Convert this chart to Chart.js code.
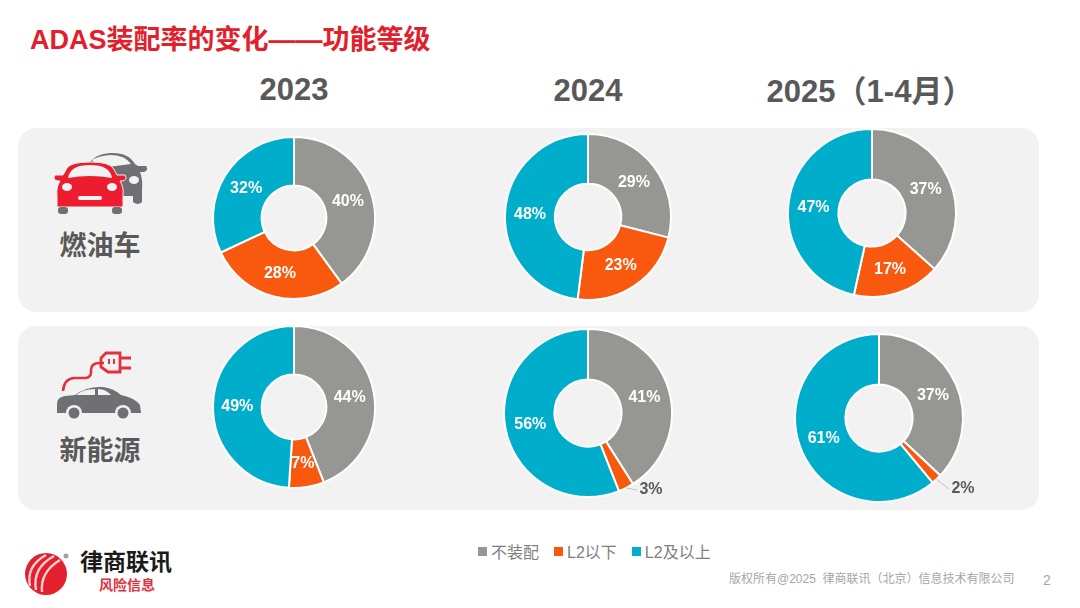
<!DOCTYPE html>
<html lang="zh">
<head>
<meta charset="utf-8">
<title>ADAS装配率的变化——功能等级</title>
<script src="https://cdn.jsdelivr.net/npm/chart.js@4"></script>
<style>
  html, body { margin: 0; padding: 0; background: #fff; }
  body { width: 1080px; height: 608px; position: relative; overflow: hidden; font-family: "Liberation Sans", "Noto Sans CJK SC", sans-serif; }
  .abs { position: absolute; white-space: nowrap; }
  .panel { position: absolute; left: 18px; width: 1021px; height: 184px; background: #f2f2f2; border-radius: 18px; }
  .title { left: 30px; top: 24px; font-size: 27px; line-height: 32px; font-weight: bold; color: #e2202c; }
  .year { font-size: 31px; line-height: 38px; font-weight: bold; color: #595959; transform: translateX(-50%); }
  .cat { left: 58px; font-size: 27px; line-height: 34px; color: #595959; font-weight: bold; width: 84px; text-align: center; }
  canvas { position: absolute; }
  .legend { left: 478px; top: 542px; font-size: 16px; line-height: 22px; color: #7f7f7f; display: flex; }
  .legend span { display: flex; align-items: center; margin-right: 15px; }
  .legend i { display: inline-block; width: 9px; height: 9px; margin-right: 4px; margin-top: -4px; }
  .foot { left: 729px; top: 571px; font-size: 12px; line-height: 16px; color: #a6a6a6; }
  .page { left: 1043px; top: 571px; font-size: 14px; line-height: 18px; color: #a6a6a6; }
  .brand { left: 80px; top: 548px; font-size: 23px; line-height: 28px; font-weight: bold; color: #1a1a1a; }
  .sub { left: 99px; top: 576px; font-size: 14px; line-height: 18px; font-weight: bold; color: #e2303c; }
</style>
</head>
<body>
<div class="panel" style="top:128px"></div>
<div class="panel" style="top:326px"></div>
<div class="abs title">ADAS装配率的变化——功能等级</div>
<div id="years"></div>
<div id="cats"></div>

<!-- 燃油车 icon -->
<svg class="abs" style="left:50px;top:150px" width="100" height="70" viewBox="0 0 100 70">
  <path d="M40 12 Q46 4 60 3 Q78 2 85 14 L88 16 L96 16 Q99 20 94 22 L90 22 Q93 30 92 40 L92 52 Q88 56 83 52 L83 46 L60 46 Z" fill="#6f7073"/>
  <path d="M42 10 Q48 6 60 5 Q75 5 81 14 L50 18 Z" fill="#f2f2f2"/>
  <path d="M17 18 Q21 12 40 12 Q59 12 63 18 L67 25 L75 25 Q78 30 72 31 L70 31 Q74 37 73 46 L73 57 L7 57 L7 46 Q6 37 10 31 L8 31 Q2 30 5 25 L13 25 Z" fill="#ed1c2e" stroke="#f2f2f2" stroke-width="1"/>
  <path d="M18 28 Q20 15 40 15 Q60 15 62 28 Q40 24 18 28 Z" fill="#f2f2f2"/>
  <ellipse cx="17" cy="37" rx="5" ry="4" fill="#f2f2f2"/>
  <ellipse cx="62" cy="37" rx="5" ry="4" fill="#f2f2f2"/>
  <ellipse cx="84" cy="30" rx="5" ry="4" fill="#f2f2f2"/>
  <rect x="28" y="46" width="24" height="4" rx="2" fill="#f2f2f2"/>
  <rect x="8" y="57" width="10" height="7" rx="3" fill="#6f7073"/>
  <rect x="62" y="57" width="10" height="7" rx="3" fill="#6f7073"/>
</svg>

<!-- 新能源 icon -->
<svg class="abs" style="left:50px;top:345px" width="100" height="80" viewBox="0 0 100 80">
  <path d="M13 46 Q14 34 24 33 L36 33 Q42 32 41 25 Q41 18 50 18 L54 18" fill="none" stroke="#e2303c" stroke-width="2.6"/>
  <path d="M56 8 L70 8 L70 27 L58 27 L51 22 L51 13 Z" fill="none" stroke="#e2303c" stroke-width="2.8"/>
  <path d="M70 13 L81 13 M70 23 L81 23" stroke="#e2303c" stroke-width="2.8"/>
  <path d="M59 14 L59 19 M64 14 L64 19" stroke="#e2303c" stroke-width="2"/>
  <g transform="translate(1,7)">
    <path d="M6 58 L6 52 Q6 45 14 44 L24 43 Q36 34 52 35 Q62 36 70 43 Q84 46 89 53 L90 61 L6 61 Z" fill="#6f7073"/>
    <path d="M25 43 Q32 37 44 37 L44 43 Z M47 37 Q55 37 60 43 L47 43 Z" fill="#f2f2f2"/>
    <circle cx="23" cy="61" r="8" fill="#f2f2f2"/><circle cx="23" cy="61" r="5.5" fill="#6f7073"/>
    <circle cx="72" cy="61" r="8" fill="#f2f2f2"/><circle cx="72" cy="61" r="5.5" fill="#6f7073"/>
  </g>
</svg>

<div class="abs legend" id="legend"></div>

<!-- logo -->
<svg class="abs" style="left:22px;top:548px" width="52" height="52" viewBox="0 0 52 52">
  <circle cx="24" cy="26" r="21" fill="#e5202e"/>
  <path d="M8 38 Q4 18 24 7 M14 42 Q10 20 32 8 M20 44 Q18 24 38 12" fill="none" stroke="#f6d3d3" stroke-width="2.4"/>
  <circle cx="44" cy="8" r="2.5" fill="#a0a0a0"/>
</svg>
<div class="abs brand">律商联讯</div>
<div class="abs sub">风险信息</div>
<div class="abs foot">版权所有@2025&nbsp; 律商联讯（北京）信息技术有限公司</div>
<div class="abs page">2</div>

<script>
const years = ["2023", "2024", "2025（1-4月）"];
const categories = ["燃油车", "新能源"];
const segments = ["不装配", "L2以下", "L2及以上"];
const colors = ["#969692", "#f9580f", "#00aecb"];

// 百分比
const fuel2023 = [40, 28, 32];
const fuel2024 = [29, 23, 48];
const fuel2025 = [37, 17, 47];
const nev2023 = [44, 7, 49];
const nev2024 = [41, 3, 56];
const nev2025 = [37, 2, 61];

const yearPos = [[294, 71], [588, 72], [870, 73]];
const catTop = [229, 434];

// cx, cy, r for each doughnut
const charts = [
  { id: "c1", data: fuel2023, cx: 294, cy: 218, r: 82 },
  { id: "c2", data: fuel2024, cx: 588, cy: 217, r: 84 },
  { id: "c3", data: fuel2025, cx: 872, cy: 213, r: 85 },
  { id: "c4", data: nev2023, cx: 294, cy: 407, r: 82 },
  { id: "c5", data: nev2024, cx: 588, cy: 413, r: 85, out: { i: 1, dx: 63, dy: 77 } },
  { id: "c6", data: nev2025, cx: 879, cy: 418, r: 85, out: { i: 1, dx: 84, dy: 71 } }
];

years.forEach((y, i) => {
  const d = document.createElement("div");
  d.className = "abs year";
  d.style.left = yearPos[i][0] + "px";
  d.style.top = yearPos[i][1] + "px";
  d.textContent = y;
  document.getElementById("years").appendChild(d);
});

categories.forEach((c, i) => {
  const d = document.createElement("div");
  d.className = "abs cat";
  d.style.top = catTop[i] + "px";
  d.textContent = c;
  document.getElementById("cats").appendChild(d);
});

document.getElementById("legend").innerHTML = segments
  .map((s, i) => `<span><i style="background:${colors[i]}"></i>${s}</span>`)
  .join("");

const percentLabels = {
  id: "percentLabels",
  afterDatasetsDraw(chart, args, opts) {
    const ctx = chart.ctx;
    const meta = chart.getDatasetMeta(0);
    const values = chart.data.datasets[0].data;
    ctx.save();
    ctx.textAlign = "center";
    ctx.textBaseline = "middle";
    ctx.font = 'bold 16px "Liberation Sans", sans-serif';
    meta.data.forEach((arc, i) => {
      const text = values[i] + "%";
      const out = opts.out;
      if (out && out.i === i) {
        const mid = (arc.startAngle + arc.endAngle) / 2;
        const x0 = arc.x + Math.cos(mid) * arc.outerRadius;
        const y0 = arc.y + Math.sin(mid) * arc.outerRadius;
        ctx.strokeStyle = "#bfbfbf";
        ctx.lineWidth = 1;
        ctx.beginPath();
        ctx.moveTo(x0, y0);
        ctx.lineTo(arc.x + out.dx - 14, arc.y + out.dy);
        ctx.stroke();
        ctx.fillStyle = "#595959";
        ctx.fillText(text, arc.x + out.dx, arc.y + out.dy);
      } else {
        const p = arc.getCenterPoint();
        ctx.fillStyle = "#fff";
        ctx.fillText(text, p.x, p.y + 1);
      }
    });
    ctx.restore();
  }
};

const pad = 45;
charts.forEach(c => {
  const canvas = document.createElement("canvas");
  const size = (c.r + pad) * 2;
  canvas.id = c.id;
  canvas.style.left = (c.cx - size / 2) + "px";
  canvas.style.top = (c.cy - size / 2) + "px";
  canvas.style.width = size + "px";
  canvas.style.height = size + "px";
  canvas.width = size;
  canvas.height = size;
  document.body.appendChild(canvas);
  new Chart(canvas, {
    type: "doughnut",
    data: {
      labels: segments,
      datasets: [{ data: c.data, backgroundColor: colors, borderColor: "#fff", borderWidth: 2 }]
    },
    options: {
      responsive: false,
      animation: false,
      cutout: "40%",
      layout: { padding: pad },
      plugins: {
        legend: { display: false },
        tooltip: { enabled: false },
        percentLabels: { out: c.out }
      }
    },
    plugins: [percentLabels]
  });
});
</script>
</body>
</html>
